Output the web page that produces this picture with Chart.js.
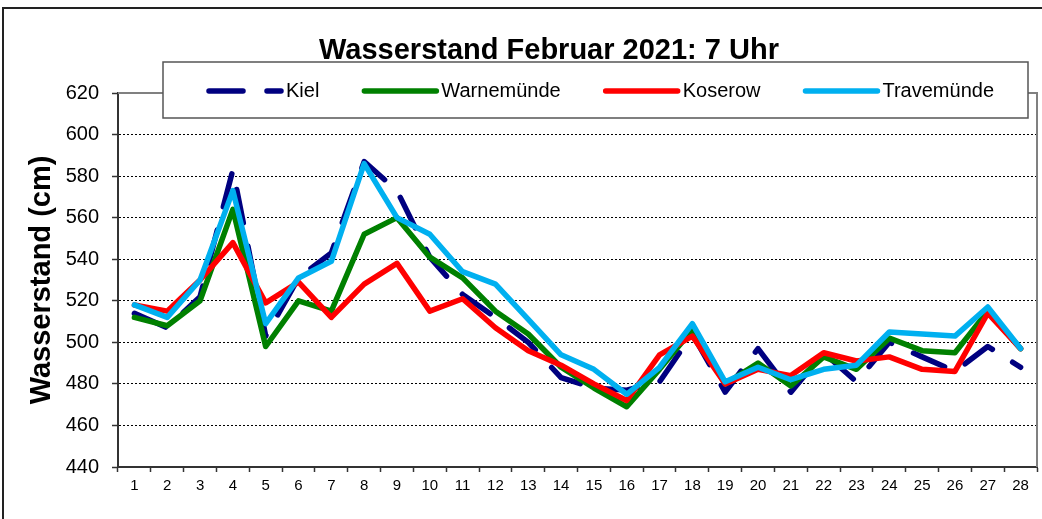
<!DOCTYPE html>
<html lang="de">
<head>
<meta charset="UTF-8">
<title>Wasserstand Februar 2021: 7 Uhr</title>
<script src="https://cdn.jsdelivr.net/npm/chart.js"></script>
<style>
  html, body { margin: 0; padding: 0; background: #fff; }
  #wrap { position: relative; width: 1042px; height: 519px; }
</style>
</head>
<body>
<div id="wrap"><canvas id="chart"></canvas></div>
<script>
// Tage im Februar
const days = ['1', '2', '3', '4', '5', '6', '7', '8', '9', '10', '11', '12', '13', '14',
              '15', '16', '17', '18', '19', '20', '21', '22', '23', '24', '25', '26', '27', '28'];

// Wasserstand in cm, jeweils 7 Uhr
const kiel        = [514, 507, 522, 583, 503, 531, 543, 587, 573, 541, 523, 512, 500, 483,
                     478, 477, 481, 504, 476, 497, 476, 495, 481, 500, 493, 486, 498, 488];
const warnemuende = [512, 508, 520, 564, 498, 520, 515, 552, 560, 541, 531, 515, 504, 488,
                     478, 469, 487, 506, 480, 490, 479, 493, 487, 502, 496, 495, 515, 497];
const koserow     = [518, 515, 530, 548, 519, 529, 512, 528, 538, 515, 521, 507, 496, 489,
                     480, 472, 494, 503, 480, 487, 484, 495, 491, 493, 487, 486, 514, 497];
const travemuende = [518, 512, 530, 573, 509, 531, 539, 586, 560, 552, 534, 528, 511, 494,
                     487, 475, 488, 509, 481, 488, 482, 487, 489, 505, 504, 503, 517, 497];

const yMin = 440;
const yMax = 620;
const yStep = 20;

const FONT = '"Liberation Sans", Arial, sans-serif';
Chart.defaults.font.family = FONT;
Chart.defaults.color = '#000';

// Rahmen, Titel und Legende selbst zeichnen (Excel-Optik)
const excelLook = {
  id: 'excelLook',
  beforeDatasetsDraw(chart) {
    const { ctx, chartArea: a } = chart;
    ctx.save();
    ctx.strokeStyle = '#808080';
    ctx.lineWidth = 2;
    ctx.beginPath();
    ctx.moveTo(a.left, a.top);
    ctx.lineTo(a.right, a.top);
    ctx.lineTo(a.right, a.bottom);
    ctx.stroke();
    ctx.restore();
  },
  afterDraw(chart) {
    const ctx = chart.ctx;
    ctx.save();

    // äußerer Rahmen
    ctx.strokeStyle = '#222';
    ctx.lineWidth = 2;
    ctx.strokeRect(3, 8, 1200, 600);

    // Titel
    ctx.fillStyle = '#000';
    ctx.font = 'bold 29px ' + FONT;
    ctx.textAlign = 'center';
    ctx.textBaseline = 'alphabetic';
    ctx.fillText('Wasserstand Februar 2021: 7 Uhr', 549, 59);

    // Legende
    ctx.fillStyle = '#fff';
    ctx.fillRect(163, 62, 865, 56);
    ctx.strokeStyle = '#555';
    ctx.lineWidth = 1.5;
    ctx.strokeRect(163, 62, 865, 56);

    ctx.font = '20px ' + FONT;
    ctx.textAlign = 'left';
    ctx.textBaseline = 'middle';
    let x = 209;
    const y = 91;
    chart.data.datasets.forEach(ds => {
      ctx.strokeStyle = ds.borderColor;
      ctx.lineWidth = ds.borderWidth;
      ctx.lineCap = 'round';
      ctx.setLineDash(ds.borderDash || []);
      ctx.beginPath();
      ctx.moveTo(x, y);
      ctx.lineTo(x + 72, y);
      ctx.stroke();
      ctx.setLineDash([]);
      ctx.fillStyle = '#000';
      ctx.fillText(ds.label, x + 77, y);
      x += 77 + ctx.measureText(ds.label).width + 45;
    });
    ctx.restore();
  }
};

function line(label, data, color, order, dash) {
  return {
    label: label,
    data: data,
    borderColor: color,
    backgroundColor: color,
    borderWidth: 5.5,
    borderDash: dash || [],
    borderCapStyle: 'round',
    borderJoinStyle: 'round',
    pointRadius: 0,
    tension: 0,
    fill: false,
    order: order
  };
}

new Chart(document.getElementById('chart'), {
  type: 'line',
  data: {
    labels: days,
    datasets: [
      line('Kiel', kiel, '#000080', 3, [34, 24]),
      line('Warnemünde', warnemuende, '#008000', 2),
      line('Koserow', koserow, '#ff0000', 1),
      line('Travemünde', travemuende, '#00b0f0', 0)
    ]
  },
  options: {
    responsive: true,
    maintainAspectRatio: false,
    animation: false,
    devicePixelRatio: 1,
    layout: { padding: { top: 93, right: 5, bottom: 0, left: 6 } },
    plugins: {
      legend: { display: false },
      title: { display: false },
      tooltip: { enabled: false }
    },
    scales: {
      x: {
        offset: true,
        grid: {
          offset: true,
          drawOnChartArea: false,
          tickLength: 5,
          tickColor: '#333',
          tickWidth: 1.5
        },
        border: { color: '#333', width: 2 },
        ticks: { font: { size: 15 }, padding: 5, maxRotation: 0, autoSkip: false },
        afterFit(scale) { scale.height = 52; }
      },
      y: {
        min: yMin,
        max: yMax,
        grid: {
          color: c => (c.tick && (c.tick.value === yMin || c.tick.value === yMax)) ? 'rgba(0,0,0,0)' : '#000',
          lineWidth: 1,
          tickLength: 6,
          tickColor: '#333',
          tickWidth: 1.5
        },
        border: { color: '#333', width: 2, dash: [2, 2] },
        ticks: { stepSize: yStep, font: { size: 20 }, padding: 13 },
        title: {
          display: true,
          text: 'Wasserstand (cm)',
          font: { size: 29, weight: 'bold' },
          padding: { top: 18.6, bottom: 0 }
        },
        afterFit(scale) { scale.width = 112; }
      }
    }
  },
  plugins: [excelLook]
});
</script>
</body>
</html>
